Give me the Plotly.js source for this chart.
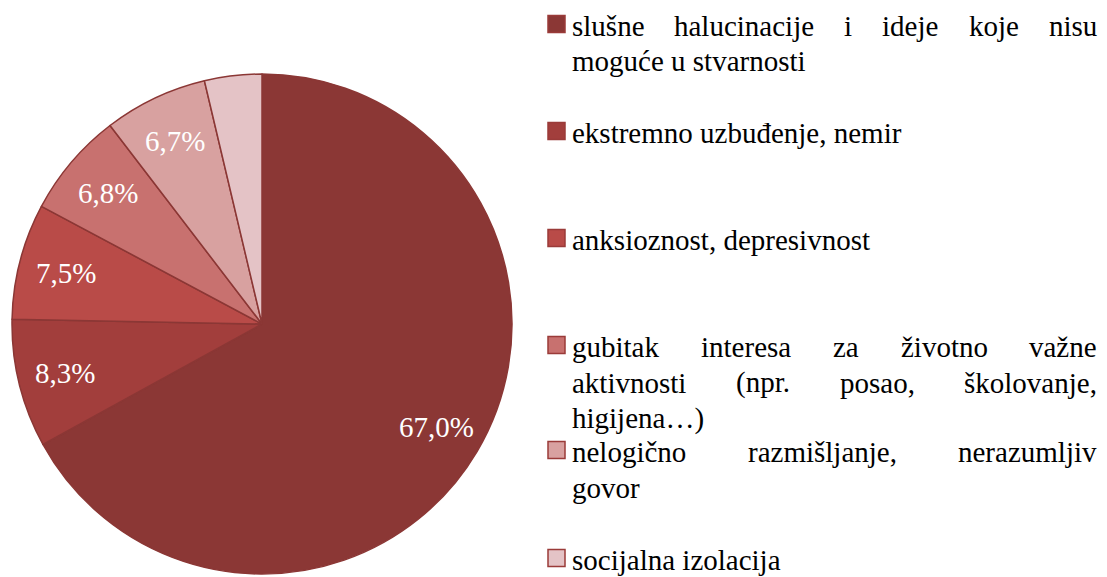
<!DOCTYPE html>
<html>
<head>
<meta charset="utf-8">
<script src="https://cdn.plot.ly/plotly-3.0.1.min.js"></script>
<style>html,body{margin:0;padding:0;background:#fff;}#chart{width:1107px;height:577px;}</style>
</head>
<body>
<div id="chart"></div>
<script>
// ---- data ----
const categories = [
  "slušne halucinacije i ideje koje nisu moguće u stvarnosti",
  "ekstremno uzbuđenje, nemir",
  "anksioznost, depresivnost",
  "gubitak interesa za životno važne aktivnosti (npr. posao, školovanje, higijena…)",
  "nelogično razmišljanje, nerazumljiv govor",
  "socijalna izolacija"
];
const values = [67.0, 8.3, 7.5, 6.8, 6.7, 3.7];
const showLabel = [true, true, true, true, true, false];
// legend text as wrapped in the reference (true = justified line)
const legendLines = [
  [["slušne halucinacije i ideje koje nisu", true], ["moguće u stvarnosti", false]],
  [["ekstremno uzbuđenje, nemir", false]],
  [["anksioznost, depresivnost", false]],
  [["gubitak interesa za životno važne", true], ["aktivnosti (npr. posao, školovanje,", true], ["higijena…)", false]],
  [["nelogično razmišljanje, nerazumljiv", true], ["govor", false]],
  [["socijalna izolacija", false]]
];
const colors = ["#8B3735", "#A23E3C", "#B94B48", "#C8716F", "#D8A1A0", "#E4C3C6"];
const FONT = "Liberation Serif";

function drawChart() {
  const cw = 1107, ch = 577, fs = 29;
  const firstLineY = [26, 133, 240, 347, 452, 560];   // centre of first text line per entry (px)
  const gapY = 35.5;
  const tLeft = 570, tRight = 1095;
  const toX = x => x / cw, toY = y => 1 - y / ch;
  const cx = 262, cy = 324, rad = 250, lr = 0.81;

  const sliceText = values.map((v, i) => showLabel[i] ? v.toFixed(1).replace('.', ',') + '%' : '');

  const pie = {
    type: 'pie',
    values: values,
    labels: categories,
    textinfo: 'none',
    sort: false,
    direction: 'clockwise',
    marker: {colors: colors, line: {color: '#8B3735', width: 1.5}},
    showlegend: false,
    domain: {x: [toX(cx - rad), toX(cx + rad)], y: [toY(cy + rad), toY(cy - rad)]}
  };

  const anns = [];
  const rects = [];

  // data labels at the mid-angle of each slice (derived from the values)
  const sum = values.reduce((a, b) => a + b, 0);
  let acc = 0;
  values.forEach((v, i) => {
    const mid = (acc + v / 2) / sum * 2 * Math.PI;
    acc += v;
    if (!sliceText[i]) return;
    anns.push({text: sliceText[i], x: toX(cx + lr * rad * Math.sin(mid)), y: toY(cy - lr * rad * Math.cos(mid)),
      xref: 'paper', yref: 'paper', xanchor: 'center', yanchor: 'middle', showarrow: false,
      font: {family: FONT, size: fs, color: '#ffffff'}});
  });

  // justified legend text, word widths measured with the same font
  const g = document.createElement('canvas').getContext('2d');
  g.font = fs + "px 'Liberation Serif'";
  legendLines.forEach((entry, i) => {
    entry.forEach(([line, just], k) => {
      const yc = firstLineY[i] + k * gapY;
      if (just) {
        const words = line.split(' ');
        const ws = words.map(w => g.measureText(w).width);
        const tw = ws.reduce((a, b) => a + b, 0);
        const gap = (tRight - tLeft - tw) / (words.length - 1);
        let x = tLeft;
        words.forEach((w, j) => {
          anns.push({text: w, x: toX(x), y: toY(yc), xref: 'paper', yref: 'paper',
            xanchor: 'left', yanchor: 'middle', showarrow: false,
            font: {family: FONT, size: fs, color: '#000000'}});
          x += ws[j] + gap;
        });
      } else {
        anns.push({text: line, x: toX(tLeft), y: toY(yc), xref: 'paper', yref: 'paper',
          xanchor: 'left', yanchor: 'middle', showarrow: false,
          font: {family: FONT, size: fs, color: '#000000'}});
      }
    });
    const my = firstLineY[i] - 2;
    rects.push({type: 'rect', xref: 'paper', yref: 'paper',
      x0: toX(548), x1: toX(565), y0: toY(my - 8.5), y1: toY(my + 8.5),
      fillcolor: colors[i], line: {color: '#9A3B39', width: 1.5}});
  });

  return Plotly.newPlot('chart', [pie], {
    width: cw, height: ch,
    margin: {l: 0, r: 0, t: 0, b: 0},
    font: {family: FONT, size: fs, color: '#000000'},
    annotations: anns,
    shapes: rects
  }, {displayModeBar: false, staticPlot: true});
}

drawChart();
// make sure the serif face is loaded, then redraw so the SVG text picks it up
if (document.fonts && document.fonts.load) {
  document.fonts.load("29px 'Liberation Serif'").then(() => {
    requestAnimationFrame(() => { drawChart(); });
  });
}
</script>
</body>
</html>
